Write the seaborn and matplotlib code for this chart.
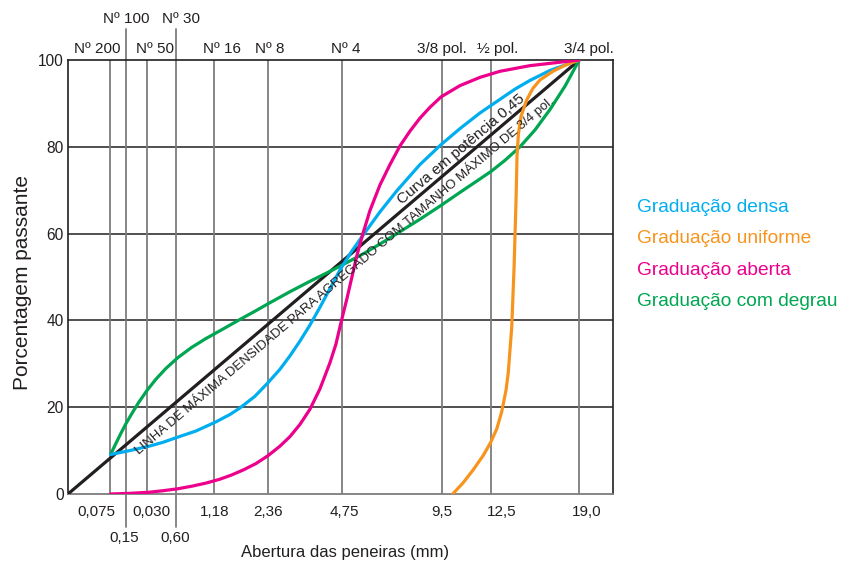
import numpy as np
import pandas as pd
import matplotlib
matplotlib.use("Agg")
import matplotlib.pyplot as plt
import seaborn as sns

# sieve openings (mm), value labels and sieve names
sieve_mm = [0.075, 0.15, 0.30, 0.60, 1.18, 2.36, 4.75, 9.5, 12.5, 19.0]
size_labels = ["0,075", "0,15", "0,030", "0,60", "1,18", "2,36", "4,75", "9,5", "12,5", "19,0"]
sieve_names = ["Nº 200", "Nº 100", "Nº 50", "Nº 30", "Nº 16", "Nº 8", "Nº 4",
               "3/8 pol.", "½ pol.", "3/4 pol."]
second_row = [False, True, False, True, False, False, False, False, False, False]

# maximum density line (0.45 power) - straight on this axis
max_mm = [0.0, 19.0]
max_pct = [0, 100]

# gradation curves (opening mm, % passing)
dense_mm = [0.076, 0.173, 0.315, 0.449, 0.622, 0.872, 1.205, 1.474, 1.684, 2.029, 2.356,
            2.682, 2.972, 3.278, 3.601, 3.941, 4.297, 4.708, 5.142, 5.595, 6.338, 7.131,
            8.286, 9.43, 10.53, 11.76, 12.5, 14.10, 15.17, 16.67, 19.0]
dense_pct = [9.1, 10.0, 11.0, 11.9, 13.1, 14.5, 16.6, 18.3, 19.8, 22.5, 25.6,
             28.7, 31.8, 35.2, 38.9, 43.0, 47.3, 52.0, 56.0, 59.6, 65.0, 69.9,
             75.9, 80.5, 84.2, 87.8, 89.6, 93.3, 95.3, 97.6, 100]

uniform_mm = [10.10, 10.72, 11.34, 11.97, 12.45, 12.85, 13.18, 13.48, 13.63, 13.87,
              14.03, 14.17, 14.24, 14.34, 14.52, 14.93, 15.39, 15.91, 16.90, 17.85, 19.0]
uniform_pct = [0, 2.6, 5.6, 8.9, 11.9, 15.0, 18.9, 24.0, 28.0, 38.5,
               52.0, 67.7, 78.0, 83.0, 87.0, 90.8, 93.5, 95.4, 97.4, 98.8, 100]

open_mm = [0.076, 0.173, 0.315, 0.449, 0.622, 0.813, 1.031, 1.279, 1.515, 1.773, 2.053,
           2.356, 2.682, 2.972, 3.278, 3.601, 3.941, 4.297, 4.519, 4.708, 4.942, 5.142,
           5.345, 5.595, 5.895, 6.338, 6.799, 7.277, 7.773, 8.286, 8.820, 9.43, 10.53,
           11.76, 13.07, 15.17, 19.0]
open_pct = [0, 0.15, 0.4, 0.75, 1.2, 1.8, 2.5, 3.4, 4.4, 5.6, 7.0,
            8.8, 11.0, 13.2, 16.0, 19.5, 24.2, 30.2, 34.5, 39.4, 45.0, 50.0,
            55.0, 60.0, 65.3, 71.2, 75.9, 80.2, 83.6, 86.6, 89.1, 91.5, 94.1,
            96.0, 97.4, 98.7, 100]

gap_mm = [0.076, 0.098, 0.122, 0.149, 0.186, 0.234, 0.298, 0.378, 0.481, 0.622, 0.813,
          1.031, 1.279, 1.684, 2.029, 2.356, 2.972, 3.601, 4.297, 4.708, 5.595, 6.338,
          7.131, 8.286, 9.43, 10.53, 11.76, 12.5, 13.41, 14.45, 15.54, 16.67, 17.85, 19.0]
gap_pct = [9.1, 11.6, 13.9, 16.1, 18.5, 21.1, 23.8, 26.4, 28.9, 31.4, 33.8,
           35.8, 37.6, 40.2, 42.1, 43.8, 46.6, 49.0, 51.3, 52.6, 55.3, 57.6,
           60.0, 63.3, 66.5, 69.5, 72.6, 74.4, 76.9, 80.0, 83.9, 88.6, 94.0, 100]

legend_names = ["Graduação densa", "Graduação uniforme", "Graduação aberta",
                "Graduação com degrau"]

BLACK = "#231F20"
GRID_V = "#7d7d7d"
palette = {"max": BLACK, "Graduação com degrau": "#00A651", "Graduação densa": "#00AEEF",
           "Graduação uniforme": "#F7941D", "Graduação aberta": "#EC008C"}

df = pd.concat([
    pd.DataFrame({"mm": max_mm, "pct": max_pct, "curva": "max"}),
    pd.DataFrame({"mm": gap_mm, "pct": gap_pct, "curva": "Graduação com degrau"}),
    pd.DataFrame({"mm": dense_mm, "pct": dense_pct, "curva": "Graduação densa"}),
    pd.DataFrame({"mm": uniform_mm, "pct": uniform_pct, "curva": "Graduação uniforme"}),
    pd.DataFrame({"mm": open_mm, "pct": open_pct, "curva": "Graduação aberta"}),
], ignore_index=True)

sns.set_style("white")
plt.rcParams["font.family"] = ["Liberation Sans", "DejaVu Sans"]

fig = plt.figure(figsize=(8.42, 5.63), dpi=100)
ax = fig.add_axes([68 / 842, 1 - 494 / 563, (613 - 68) / 842, (494 - 60) / 563])

sns.lineplot(data=df, x="mm", y="pct", hue="curva", palette=palette,
             hue_order=list(palette.keys()), estimator=None, sort=False,
             linewidth=2.3, legend=False, ax=ax, zorder=3)
for ln in ax.get_lines():
    ln.set_solid_joinstyle("round")
    ln.set_solid_capstyle("round")


def fwd(x):
    x = np.asarray(x, dtype=float)
    return np.sign(x) * np.abs(x) ** 0.45


def inv(x):
    x = np.asarray(x, dtype=float)
    return np.sign(x) * np.abs(x) ** (1 / 0.45)


ax.set_xscale("function", functions=(fwd, inv))
ax.set_xlim(0, 21.9)
ax.set_ylim(0, 100)

# grid
for y in [20, 40, 60, 80]:
    ax.axhline(y, color=BLACK, lw=1.1, zorder=1)
for mm, low in zip(sieve_mm, second_row):
    if low:
        ax.axvline(mm, ymin=-0.075, ymax=1.071, color=GRID_V, lw=1.3, zorder=1, clip_on=False)
    else:
        ax.axvline(mm, color=GRID_V, lw=1.3, zorder=1)

for side in ["left", "top", "right"]:
    ax.spines[side].set_color(BLACK)
    ax.spines[side].set_linewidth(1.2)
ax.spines["bottom"].set_color(GRID_V)
ax.spines["bottom"].set_linewidth(1.3)

ax.set_xticks([])
ax.set_yticks([0, 20, 40, 60, 80, 100])
ax.tick_params(axis="y", length=0, pad=3, labelsize=11.2, labelcolor=BLACK)
ax.set_xlabel("")
ax.set_ylabel("")

# sieve labels above and below the axes
bottom_dx = [-14, -2, 4, -1, 0, 0, 2, 0, 10, 7]
top_dx = [-13, 0, 8, 5, 8, 2, 4, 0, 6, 9.5]
xt = ax.get_xaxis_transform()
for mm, lab, name, low, bdx, tdx in zip(sieve_mm, size_labels, sieve_names,
                                        second_row, bottom_dx, top_dx):
    ax.annotate(lab, xy=(mm, -0.1025 if low else -0.0415), xycoords=xt,
                xytext=(bdx, 0), textcoords="offset pixels",
                ha="center", va="center", fontsize=11, color=BLACK)
    ax.annotate(name, xy=(mm, 1.095 if low else 1.0258), xycoords=xt,
                xytext=(tdx, 0), textcoords="offset pixels",
                ha="center", va="center", fontsize=11, color=BLACK)

fig.text(345 / 842, 1 - 552 / 563, "Abertura das peneiras (mm)", ha="center",
         va="center", fontsize=12, color=BLACK)
fig.text(23 / 842, 1 - 282 / 563, "Porcentagem passante", ha="center",
         va="center", rotation=90, fontsize=15, color=BLACK)

# coloured legend text
for name, yb in zip(legend_names, [212, 243, 275, 306]):
    fig.text(637 / 842, 1 - yb / 563, name, color=palette[name], fontsize=13.8,
             ha="left", va="baseline")

# labels along the maximum density line
p0 = ax.transData.transform((max_mm[0], max_pct[0]))
p1 = ax.transData.transform((max_mm[1], max_pct[1]))
d = p1 - p0
ang = np.degrees(np.arctan2(d[1], d[0]))
u = d / np.hypot(*d)
nrm = np.array([-u[1], u[0]])
pm = p0 + 0.525 * d - 16.2 * nrm
ax.annotate("LINHA DE MÁXIMA DENSIDADE PARA AGREGADO COM TAMANHO MÁXIMO DE 3/4 pol.",
            xy=tuple(pm), xycoords="figure pixels", ha="center", va="baseline",
            rotation=ang, rotation_mode="anchor", fontsize=9.5, color=BLACK, zorder=4)
pc = p0 + 0.779 * d + 8.5 * nrm
ax.annotate("Curva em potência 0,45", xy=tuple(pc), xycoords="figure pixels",
            ha="center", va="center", rotation=ang, rotation_mode="anchor",
            fontsize=11, color=BLACK, zorder=4)

fig.savefig("out.png", dpi=100)
